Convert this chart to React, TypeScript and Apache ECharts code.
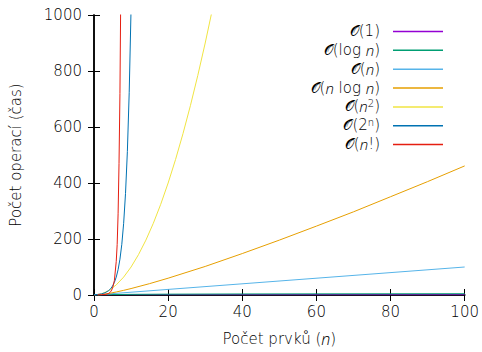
import React, { useEffect, useRef } from "react";
import * as echarts from "echarts";

const xTicks = [0, 20, 40, 60, 80, 100];
const yTicks = [0, 200, 400, 600, 800, 1000];

const constX = [0, 100];
const constY = [1, 1];
const logX = [1, 2, 5, 10, 20, 40, 60, 80, 100];
const logY = [0, 0.7, 1.6, 2.3, 3.0, 3.7, 4.1, 4.4, 4.6];
const linX = [0, 100];
const linY = [0, 100];
const nlognX = [1, 2, 4, 6, 8, 10, 15, 20, 30, 40, 50, 60, 70, 80, 90, 100];
const nlognY = [0, 1.4, 5.5, 10.8, 16.6, 23, 40.6, 60, 102, 148, 196, 246, 297, 351, 405, 461];
const sqX = [0, 2, 4, 6, 8, 10, 12, 14, 16, 18, 20, 22, 24, 26, 28, 30, 32];
const sqY = [0, 4, 16, 36, 64, 100, 144, 196, 256, 324, 400, 484, 576, 676, 784, 900, 1024];
const expX = [0, 1, 2, 3, 4, 4.5, 5, 5.5, 6, 6.5, 7, 7.5, 8, 8.5, 9, 9.5, 10];
const expY = [1, 2, 4, 8, 16, 22.6, 32, 45, 64, 90.5, 128, 181, 256, 362, 512, 724, 1024];
const factX = [1, 2, 3, 3.5, 4, 4.5, 5, 5.5, 6, 6.25, 6.5, 6.75, 7, 7.25, 7.5];
const factY = [1, 1, 2, 3.3, 6, 11.6, 24, 52, 120, 180, 290, 470, 720, 1130, 1870];

const names = ["𝒪(1)", "𝒪(log n)", "𝒪(n)", "𝒪(n log n)", "𝒪(n²)", "𝒪(2ⁿ)", "𝒪(n!)"];
const legendRich = [
  "{o|𝒪}{t|(1)}",
  "{o|𝒪}{t|(log }{i|n}{t|)}",
  "{o|𝒪}{t|(}{i|n}{t|)}",
  "{o|𝒪}{t|(}{i|n}{t| log }{i|n}{t|)}",
  "{o|𝒪}{t|(}{i|n}{s|2}{t|)}",
  "{o|𝒪}{t|(2}{s|n}{t|)}",
  "{o|𝒪}{t|(}{i|n}{t|!)}",
];
const colors = ["#9400d3", "#009e73", "#56b4e9", "#e69f00", "#f0e442", "#0072b2", "#e51e10"];

const zip = (xs: number[], ys: number[]) => xs.map((x, i) => [x, ys[i]]);
const seriesData = [
  zip(constX, constY),
  zip(logX, logY),
  zip(linX, linY),
  zip(nlognX, nlognY),
  zip(sqX, sqY),
  zip(expX, expY),
  zip(factX, factY),
];

const FONT = "DejaVu Sans";
const IFONT = "Open Sans";
const WEIGHT = 200;
const TXT = "#000";

export default function App() {
  const ref = useRef<HTMLDivElement>(null);
  useEffect(() => {
    if (!ref.current) return;
    const chart = echarts.init(ref.current, undefined, { renderer: "svg" });
    const axisLine = { show: true, lineStyle: { color: "#000", width: 1.5 } };
    const tick = { show: true, inside: true, length: 6, lineStyle: { color: "#000", width: 1 } };
    const label = { color: TXT, fontFamily: FONT, fontSize: 15, fontWeight: WEIGHT };
    const italic = { fontStyle: "italic", fontFamily: IFONT, fontSize: 15, fontWeight: 300 };
    const LH = 16;
    const legendGraphics: any[] = [];
    names.forEach((n, i) => {
      const y = 31 + 18.85 * i;
      legendGraphics.push({
        type: "text",
        x: 380,
        y,
        style: {
          text: legendRich[i],
          align: "right",
          verticalAlign: "middle",
          fill: TXT,
          fontFamily: FONT,
          fontSize: 15,
          fontWeight: WEIGHT,
          lineHeight: LH,
          rich: {
            t: { fontFamily: FONT, fontSize: 15, fontWeight: WEIGHT, fill: TXT, lineHeight: LH },
            o: { fontFamily: "DejaVu Serif", fontSize: 15, fontWeight: WEIGHT, fill: TXT, lineHeight: LH },
            i: { ...italic, fill: TXT, lineHeight: LH },
            s: { fontFamily: FONT, fontSize: 10, fontWeight: WEIGHT, fill: TXT, verticalAlign: "top", lineHeight: LH },
          },
        },
      });
      legendGraphics.push({
        type: "line",
        shape: { x1: 393, y1: y + 0.5, x2: 443, y2: y + 0.5 },
        style: { stroke: colors[i], lineWidth: 1.5 },
      });
    });
    chart.setOption({
      animation: false,
      grid: { left: 94, right: 17, top: 15, bottom: 55 },
      xAxis: [
        {
          type: "value",
          min: 0,
          max: 100,
          interval: 20,
          position: "bottom",
          axisLine,
          axisTick: tick,
          splitLine: { show: false },
          axisLabel: { ...label, margin: 9, formatter: (v: number) => String(v) },
          name: "Počet prvků ({i|n})",
          nameLocation: "middle",
          nameGap: 36,
          nameTextStyle: {
            ...label,
            verticalAlign: "top",
            rich: { i: { ...italic, fontSize: 16, color: TXT } },
          },
        },
        {
          type: "value",
          min: 0,
          max: 100,
          interval: 20,
          position: "top",
          axisLine,
          axisTick: tick,
          splitLine: { show: false },
          axisLabel: { show: false },
        },
      ],
      yAxis: [
        {
          type: "value",
          min: 0,
          max: 1000,
          interval: 200,
          position: "left",
          axisLine,
          axisTick: tick,
          splitLine: { show: false },
          axisLabel: { ...label, margin: 12, formatter: (v: number) => String(v) },
          name: "Počet operací (čas)",
          nameLocation: "middle",
          nameGap: 71,
          nameTextStyle: label,
        },
        {
          type: "value",
          min: 0,
          max: 1000,
          interval: 200,
          position: "right",
          axisLine,
          axisTick: tick,
          splitLine: { show: false },
          axisLabel: { show: false },
        },
      ],
      series: seriesData.map((d, i) => ({
        type: "line",
        name: names[i],
        data: d,
        showSymbol: false,
        symbol: "none",
        clip: true,
        lineStyle: { color: colors[i], width: 1 },
        itemStyle: { color: colors[i] },
        xAxisIndex: 0,
        yAxisIndex: 0,
      })),
      graphic: legendGraphics,
    });
    return () => chart.dispose();
  }, []);
  return (
    <div
      ref={ref}
      style={{ position: "absolute", left: 0, top: 0, width: 482, height: 352, background: "#fff" }}
    />
  );
}
